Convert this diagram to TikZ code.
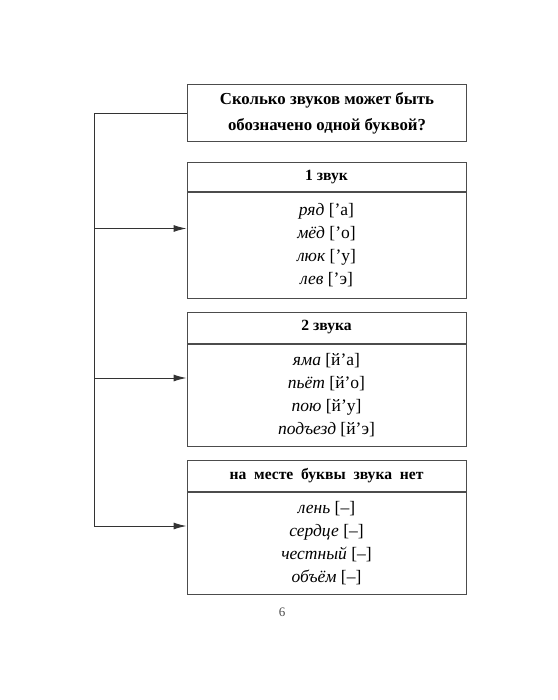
\documentclass[tikz,border=0pt]{standalone}
\usepackage{fontspec}
\setmainfont{Liberation Serif}
\usetikzlibrary{arrows.meta}
\begin{document}
\begin{tikzpicture}[x=1pt,y=-1pt,
    frame/.style={draw=black!70, line width=1pt, minimum width=279pt, inner sep=0pt, align=center},
    head/.style={frame, font=\fontsize{15.6}{18}\selectfont\bfseries},
    body/.style={frame, font=\fontsize{17.5}{23}\selectfont},
    link/.style={draw=black!80, line width=1pt},
    arr/.style={link, -{Latex[length=13pt,width=7pt]}}]
        \useasboundingbox (0,0) rectangle (557,700);
        \node [head, minimum height=57pt, font=\fontsize{16.8}{26.5}\selectfont\bfseries] (q) at (327,113.5)
            {Сколько звуков может быть\\обозначено одной буквой?};
        \node [head, minimum height=29pt] (h1) at (326.5,177.5) {1 звук};
        \node [body, minimum height=105pt, anchor=north] (b1) at (h1.south)
            {\textit{ряд} [’а]\\\textit{мёд} [’о]\\\textit{люк} [’у]\\\textit{лев} [’э]};
        \node [head, minimum height=31pt] (h2) at (326.5,327.5) {2 звука};
        \node [body, minimum height=102pt, anchor=north] (b2) at (h2.south)
            {\textit{яма} [й’а]\\\textit{пьёт} [й’о]\\\textit{пою} [й’у]\\\textit{подъезд} [й’э]};
        \node [head, minimum height=31pt] (h3) at (326.5,475.5) {на\ \ месте\ \ буквы\ \ звука\ \ нет};
        \node [body, minimum height=102pt, anchor=north] (b3) at (h3.south)
            {\textit{лень} [–]\\\textit{сердце} [–]\\\textit{честный} [–]\\\textit{объём} [–]};
        \coordinate (e1) at ([yshift=17pt]b1.west);
        \coordinate (e2) at ([yshift=17pt]b2.west);
        \coordinate (e3) at ([yshift=17pt]b3.west);
        \draw [link] (q.west) -- ++(-93,0) coordinate (bend);
        \draw [arr] (bend) |- (e3);
        \draw [arr] (bend |- e1) -- (e1);
        \draw [arr] (bend |- e2) -- (e2);
        \node [font=\fontsize{13}{15}\selectfont, text=black!70] (pg) at (282,612) {6};
    \end{tikzpicture}
\end{document}
